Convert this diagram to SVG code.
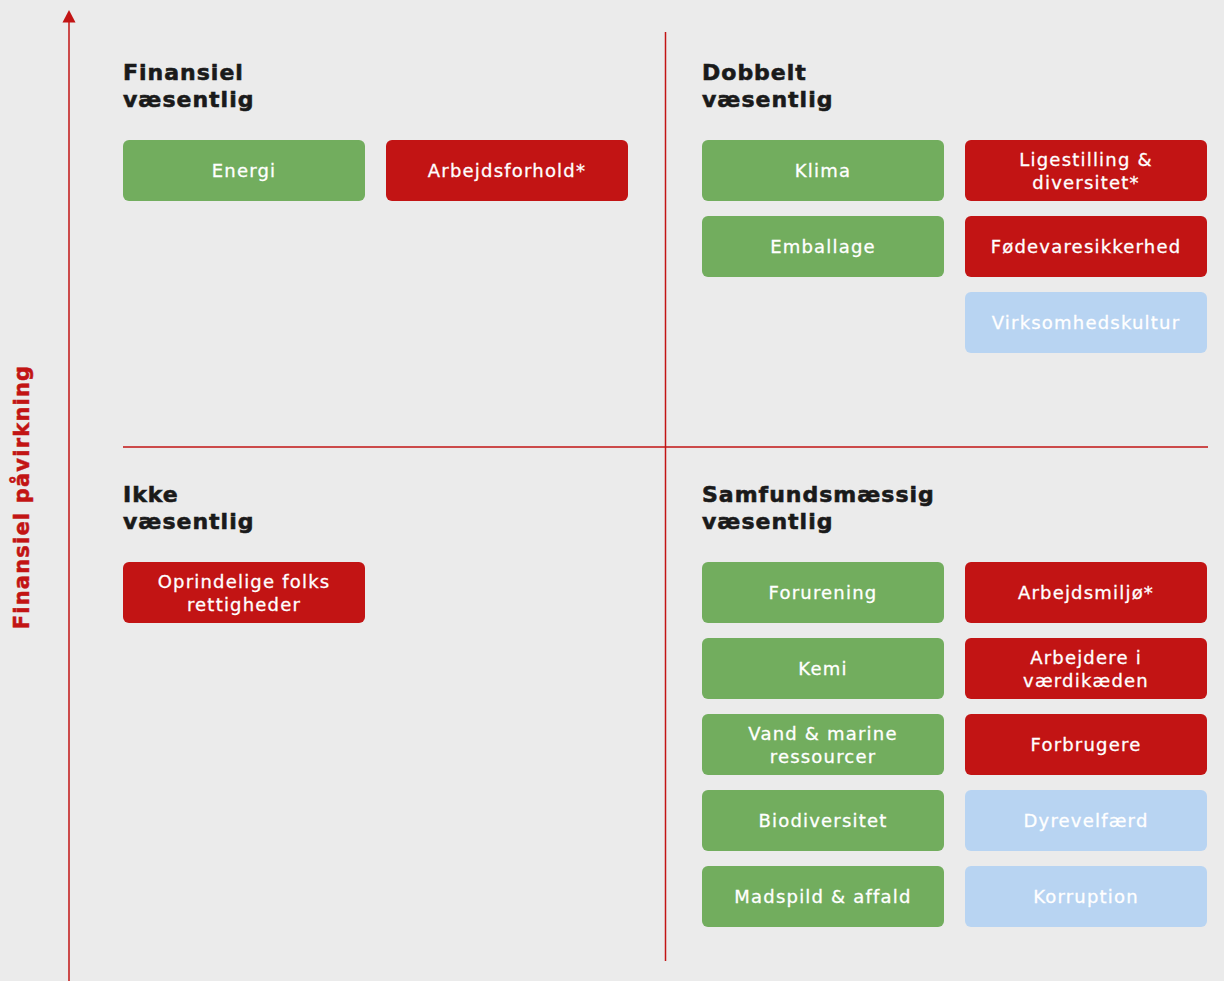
<svg xmlns="http://www.w3.org/2000/svg" width="1224" height="981" viewBox="0 0 1224 981">
<defs>
<style>
.bg{fill:#ebebeb}
.ax{stroke:#c21414;stroke-width:1.5;fill:none}
.g{fill:#72ad5e}
.r{fill:#c21414}
.b{fill:#b8d4f2}
.t{font-family:"DejaVu Sans","Liberation Sans",sans-serif;font-size:18px;font-weight:normal;letter-spacing:1.2px;fill:#ffffff;stroke:#ffffff;stroke-width:0.3;text-anchor:middle}
.h{font-family:"DejaVu Sans","Liberation Sans",sans-serif;font-size:22px;font-weight:bold;letter-spacing:1px;fill:#1a1a1a;stroke:#1a1a1a;stroke-width:0.6}
.yl{font-family:"DejaVu Sans","Liberation Sans",sans-serif;font-size:21px;font-weight:bold;letter-spacing:1.2px;fill:#c21414;stroke:#c21414;stroke-width:0.5;text-anchor:middle}
</style>
</defs>
<rect class="bg" x="0" y="0" width="1224" height="981"/>
<g id="connectors">
<line class="ax" x1="69" y1="981" x2="69" y2="20"/>
<polygon points="69,10 75.5,22.5 62.5,22.5" fill="#c21414"/>
<line class="ax" x1="665.5" y1="32" x2="665.5" y2="961"/>
<line class="ax" x1="123" y1="447" x2="1208" y2="447"/>
</g>
<g id="axis-label"><text class="yl" transform="translate(29,497) rotate(-90)">Finansiel påvirkning</text></g>
<g id="h-finansiel"><text class="h" x="123" y="80">Finansiel</text><text class="h" x="123" y="107">væsentlig</text></g>
<g id="h-dobbelt"><text class="h" x="702" y="80">Dobbelt</text><text class="h" x="702" y="107">væsentlig</text></g>
<g id="h-ikke"><text class="h" x="123" y="502">Ikke</text><text class="h" x="123" y="529">væsentlig</text></g>
<g id="h-samfund"><text class="h" x="702" y="502">Samfundsmæssig</text><text class="h" x="702" y="529">væsentlig</text></g>

<g id="energi"><rect class="g" x="123" y="140" width="242" height="61" rx="6"/><text class="t" x="244" y="177">Energi</text></g>
<g id="arbejdsforhold"><rect class="r" x="386" y="140" width="242" height="61" rx="6"/><text class="t" x="507" y="177">Arbejdsforhold*</text></g>

<g id="klima"><rect class="g" x="702" y="140" width="242" height="61" rx="6"/><text class="t" x="823" y="177">Klima</text></g>
<g id="ligestilling"><rect class="r" x="965" y="140" width="242" height="61" rx="6"/><text class="t" x="1086" y="165.5">Ligestilling &amp;</text><text class="t" x="1086" y="188.5">diversitet*</text></g>
<g id="emballage"><rect class="g" x="702" y="216" width="242" height="61" rx="6"/><text class="t" x="823" y="253">Emballage</text></g>
<g id="fodevare"><rect class="r" x="965" y="216" width="242" height="61" rx="6"/><text class="t" x="1086" y="253">Fødevaresikkerhed</text></g>
<g id="virksomhed"><rect class="b" x="965" y="292" width="242" height="61" rx="6"/><text class="t" x="1086" y="329">Virksomhedskultur</text></g>

<g id="oprindelige"><rect class="r" x="123" y="562" width="242" height="61" rx="6"/><text class="t" x="244" y="587.5">Oprindelige folks</text><text class="t" x="244" y="610.5">rettigheder</text></g>

<g id="forurening"><rect class="g" x="702" y="562" width="242" height="61" rx="6"/><text class="t" x="823" y="599">Forurening</text></g>
<g id="arbejdsmiljo"><rect class="r" x="965" y="562" width="242" height="61" rx="6"/><text class="t" x="1086" y="599">Arbejdsmiljø*</text></g>
<g id="kemi"><rect class="g" x="702" y="638" width="242" height="61" rx="6"/><text class="t" x="823" y="675">Kemi</text></g>
<g id="arbejdere"><rect class="r" x="965" y="638" width="242" height="61" rx="6"/><text class="t" x="1086" y="663.5">Arbejdere i</text><text class="t" x="1086" y="686.5">værdikæden</text></g>
<g id="vand"><rect class="g" x="702" y="714" width="242" height="61" rx="6"/><text class="t" x="823" y="739.5">Vand &amp; marine</text><text class="t" x="823" y="762.5">ressourcer</text></g>
<g id="forbrugere"><rect class="r" x="965" y="714" width="242" height="61" rx="6"/><text class="t" x="1086" y="751">Forbrugere</text></g>
<g id="biodiversitet"><rect class="g" x="702" y="790" width="242" height="61" rx="6"/><text class="t" x="823" y="827">Biodiversitet</text></g>
<g id="dyrevelfaerd"><rect class="b" x="965" y="790" width="242" height="61" rx="6"/><text class="t" x="1086" y="827">Dyrevelfærd</text></g>
<g id="madspild"><rect class="g" x="702" y="866" width="242" height="61" rx="6"/><text class="t" x="823" y="903">Madspild &amp; affald</text></g>
<g id="korruption"><rect class="b" x="965" y="866" width="242" height="61" rx="6"/><text class="t" x="1086" y="903">Korruption</text></g>
</svg>
